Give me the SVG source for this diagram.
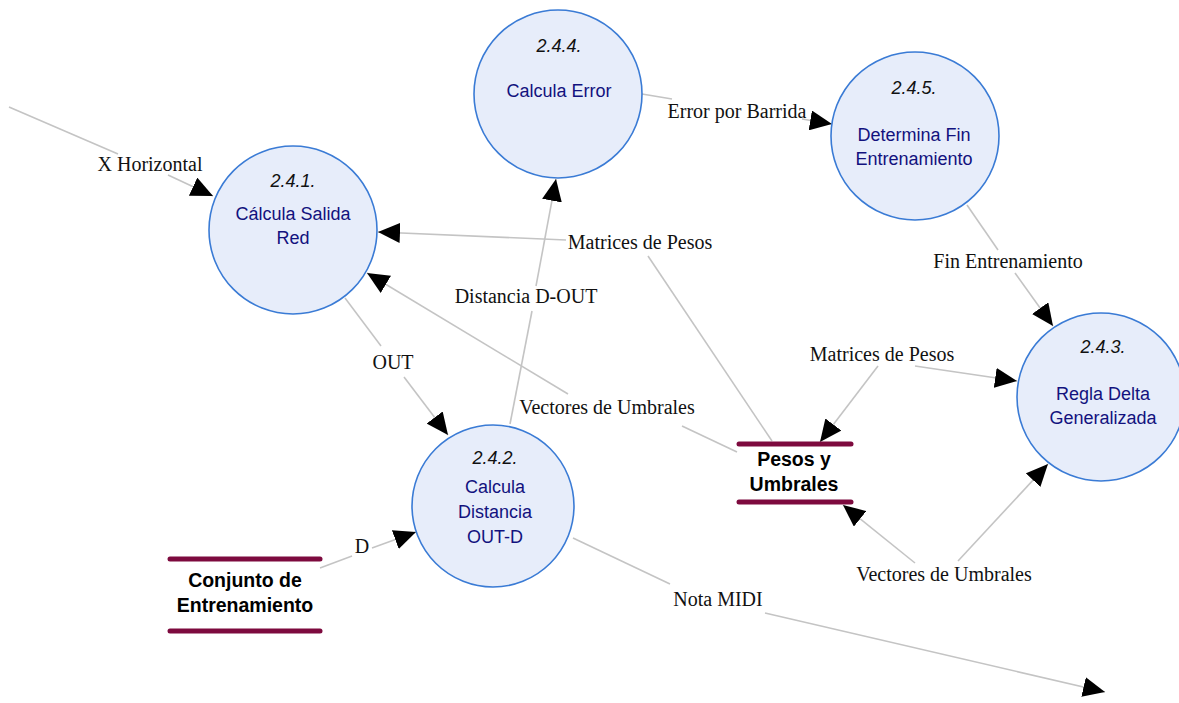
<svg xmlns="http://www.w3.org/2000/svg" width="1179" height="703" viewBox="0 0 1179 703">
  <style>
    .proc { fill: #e7edfa; stroke: #3a7bd5; stroke-width: 1.6; }
    .num { font-family: "Liberation Sans", Arial, sans-serif; font-size: 18px; font-style: italic; fill: #111; text-anchor: middle; }
    .name { font-family: "Liberation Sans", Arial, sans-serif; font-size: 18px; fill: #12127e; text-anchor: middle; }
    .store-line { stroke: #7d0a3e; stroke-width: 5; stroke-linecap: round; }
    .store-text { font-family: "Liberation Sans", Arial, sans-serif; font-size: 19.5px; font-weight: bold; fill: #000; text-anchor: middle; }
    .flow { fill: none; stroke: #c4c4c4; stroke-width: 1.6; }
    .arrow { marker-end: url(#head); }
    .flabel { font-family: "Liberation Serif", "Times New Roman", serif; font-size: 20px; fill: #111; text-anchor: middle; }
  </style>
  <defs>
    <marker id="head" viewBox="0 0 22 20" refX="22" refY="10" markerWidth="22" markerHeight="20" markerUnits="userSpaceOnUse" orient="auto">
      <path d="M0,0 L22,10 L0,20 z" fill="#000"/>
    </marker>
  </defs>

  <rect width="1179" height="703" fill="#fff"/>

  <!-- data flows -->
  <g id="connectors">
    <!-- X Horizontal -->
    <line class="flow" x1="9" y1="107" x2="118" y2="154"/>
    <line class="flow arrow" x1="168" y1="175" x2="213" y2="196"/>
    <text class="flabel" x="150" y="171">X Horizontal</text>

    <!-- Error por Barrida -->
    <line class="flow" x1="642" y1="94" x2="672" y2="99"/>
    <line class="flow arrow" x1="802" y1="119" x2="832" y2="124"/>
    <text class="flabel" x="737" y="118">Error por Barrida</text>

    <!-- Fin Entrenamiento -->
    <line class="flow" x1="967" y1="205" x2="998" y2="250"/>
    <line class="flow arrow" x1="1015" y1="273" x2="1053" y2="326"/>
    <text class="flabel" x="1008" y="268">Fin Entrenamiento</text>

    <!-- Matrices de Pesos (store to 2.4.1) -->
    <line class="flow" x1="772" y1="441" x2="648" y2="256"/>
    <line class="flow arrow" x1="566" y1="240" x2="378" y2="232"/>
    <text class="flabel" x="640" y="249">Matrices de Pesos</text>

    <!-- Vectores de Umbrales (store to 2.4.1) -->
    <line class="flow" x1="737" y1="452" x2="682" y2="426"/>
    <line class="flow arrow" x1="568" y1="394" x2="367" y2="273"/>
    <text class="flabel" x="607" y="414">Vectores de Umbrales</text>

    <!-- Distancia D-OUT -->
    <line class="flow" x1="510" y1="424" x2="532" y2="311"/>
    <line class="flow arrow" x1="536" y1="286" x2="556" y2="179"/>
    <text class="flabel" x="526" y="303">Distancia D-OUT</text>

    <!-- OUT -->
    <line class="flow" x1="345" y1="298" x2="381" y2="346"/>
    <line class="flow arrow" x1="404" y1="377" x2="448" y2="435"/>
    <text class="flabel" x="393" y="369">OUT</text>

    <!-- D -->
    <line class="flow" x1="320" y1="568" x2="352" y2="556"/>
    <line class="flow arrow" x1="372" y1="548" x2="416" y2="532"/>
    <text class="flabel" x="362" y="553">D</text>

    <!-- Nota MIDI -->
    <line class="flow" x1="573" y1="538" x2="670" y2="584"/>
    <line class="flow arrow" x1="765" y1="613" x2="1105" y2="692"/>
    <text class="flabel" x="718" y="606">Nota MIDI</text>

    <!-- Matrices de Pesos (2.4.3 and store) -->
    <line class="flow arrow" x1="878" y1="366" x2="820" y2="442"/>
    <line class="flow arrow" x1="915" y1="366" x2="1017" y2="381"/>
    <text class="flabel" x="882" y="361">Matrices de Pesos</text>

    <!-- Vectores de Umbrales (2.4.3 and store) -->
    <line class="flow arrow" x1="915" y1="563" x2="843" y2="505"/>
    <line class="flow arrow" x1="958" y1="561" x2="1048" y2="464"/>
    <text class="flabel" x="944" y="581">Vectores de Umbrales</text>
  </g>

  <!-- processes -->
  <g id="p241">
    <circle class="proc" cx="293" cy="230" r="84"/>
    <text class="num" x="293" y="187">2.4.1.</text>
    <text class="name" x="293" y="220">Cálcula Salida</text>
    <text class="name" x="293" y="244">Red</text>
  </g>
  <g id="p244">
    <circle class="proc" cx="558" cy="94" r="84"/>
    <text class="num" x="559" y="52">2.4.4.</text>
    <text class="name" x="559" y="97">Calcula Error</text>
  </g>
  <g id="p245">
    <circle class="proc" cx="915" cy="136" r="84"/>
    <text class="num" x="914" y="94">2.4.5.</text>
    <text class="name" x="914" y="141">Determina Fin</text>
    <text class="name" x="914" y="165">Entrenamiento</text>
  </g>
  <g id="p242">
    <circle class="proc" cx="493" cy="506" r="81"/>
    <text class="num" x="495" y="464">2.4.2.</text>
    <text class="name" x="495" y="493">Calcula</text>
    <text class="name" x="495" y="518">Distancia</text>
    <text class="name" x="495" y="543">OUT-D</text>
  </g>
  <g id="p243">
    <circle class="proc" cx="1101" cy="397" r="84"/>
    <text class="num" x="1103" y="353">2.4.3.</text>
    <text class="name" x="1103" y="400">Regla Delta</text>
    <text class="name" x="1103" y="424">Generalizada</text>
  </g>

  <!-- data stores -->
  <g id="store-conjunto">
    <line class="store-line" x1="170" y1="559" x2="320" y2="559"/>
    <line class="store-line" x1="170" y1="631" x2="320" y2="631"/>
    <text class="store-text" x="245" y="587">Conjunto de</text>
    <text class="store-text" x="245" y="612">Entrenamiento</text>
  </g>
  <g id="store-pesos">
    <line class="store-line" x1="739" y1="444" x2="851" y2="444"/>
    <line class="store-line" x1="739" y1="502" x2="851" y2="502"/>
    <text class="store-text" x="794" y="466">Pesos y</text>
    <text class="store-text" x="794" y="491">Umbrales</text>
  </g>
</svg>
